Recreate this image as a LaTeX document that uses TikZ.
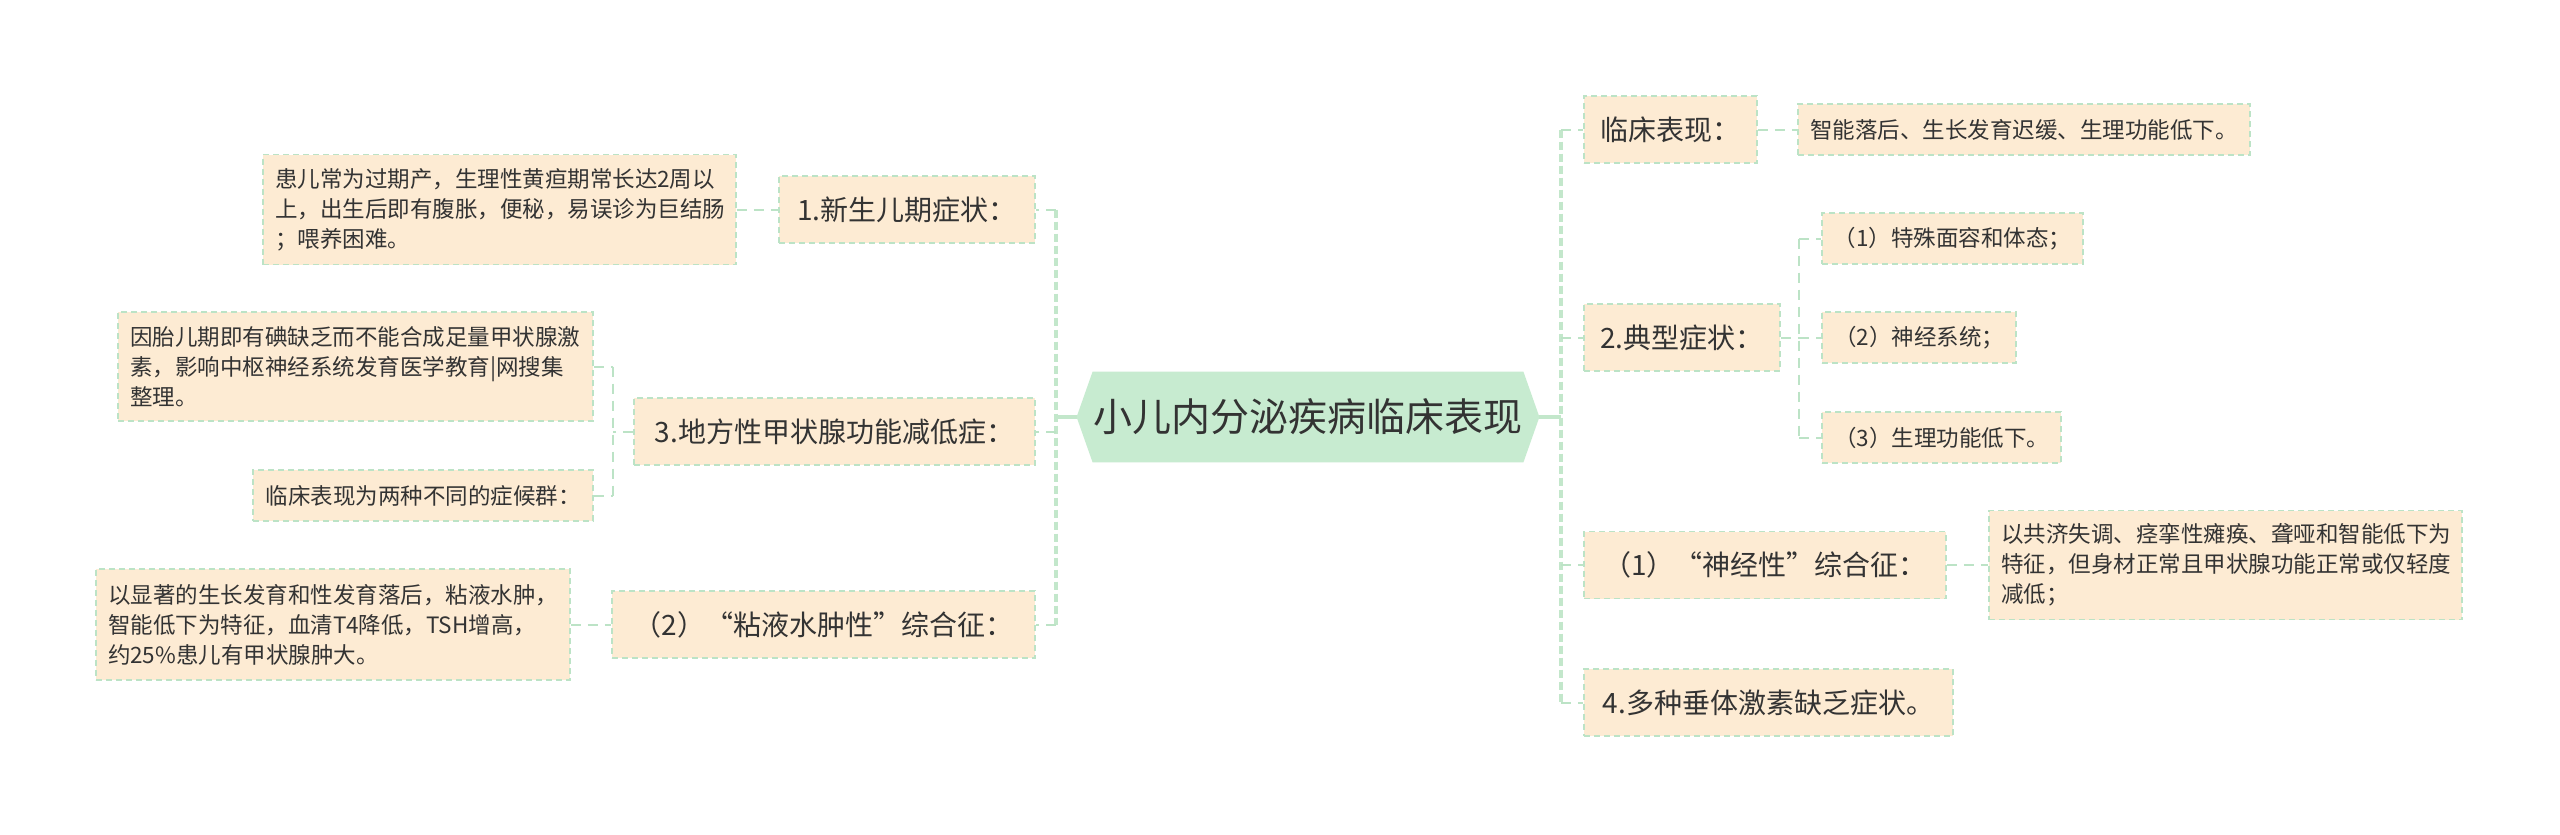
\documentclass[tikz,border=0pt]{standalone}
\usepackage{fontspec}
\setmainfont{Noto Sans CJK SC}
\usetikzlibrary{calc,backgrounds}
\definecolor{lg}{HTML}{BCE3C6}
\definecolor{tg}{HTML}{C3E7CB}
\definecolor{bf}{HTML}{FDEBD3}
\definecolor{hexf}{HTML}{C7EBD0}
\definecolor{tx}{HTML}{333333}
\begin{document}
\begin{tikzpicture}[x=0.5pt,y=-0.5pt,
  box/.style={draw=lg, line width=0.9pt, dash pattern=on 3pt off 2pt, fill=bf, text=tx, inner sep=0pt},
  big/.style={box, font=\fontsize{14pt}{17pt}\selectfont, minimum height=33.5pt},
  small/.style={box, font=\fontsize{11.25pt}{15pt}\selectfont, minimum height=25.5pt},
  multi/.style={box, font=\fontsize{11.25pt}{15pt}\selectfont, align=left, inner xsep=6pt},
  trunk/.style={draw=tg, line width=2pt, dash pattern=on 4pt off 2pt},
  rootline/.style={draw=tg, line width=2pt},
  stub/.style={draw=lg, line width=1pt, dash pattern=on 5pt off 3.5pt}]
\useasboundingbox (0,0) rectangle (2560,835);

% root
\node[minimum width=231pt, minimum height=45pt, inner sep=0pt, text=tx,
      font=\fontsize{19.5pt}{23pt}\selectfont] (root) at (1308,417) {小儿内分泌疾病临床表现};
\begin{scope}[on background layer]
\fill[white] (0,0) rectangle (2560,835);
\fill[hexf] (root.west) -- ([xshift=8pt]root.north west) -- ([xshift=-8pt]root.north east)
  -- (root.east) -- ([xshift=-8pt]root.south east) -- ([xshift=8pt]root.south west) -- cycle;
\end{scope}

% left level 1
\node[big, minimum width=128pt] (A1) at (907,209.5) {1.新生儿期症状：};
\node[big, minimum width=200.5pt] (A3) at (834.5,431.5) {3.地方性甲状腺功能减低症：};
\node[big, minimum width=211.5pt] (A2) at (823.5,624.5) {（2）“粘液水肿性”综合征：};

% left children
\node[multi, text width=224.5pt, minimum height=55pt] (A1c) at (499.5,209.5)
  {患儿常为过期产，生理性黄疸期常长达2周以\\上，出生后即有腹胀，便秘，易误诊为巨结肠\\；喂养困难。};
\node[multi, text width=225.5pt, minimum height=54.5pt] (A3c1) at (355.5,366.5)
  {因胎儿期即有碘缺乏而不能合成足量甲状腺激\\素，影响中枢神经系统发育医学教育|网搜集\\整理。};
\node[small, minimum width=170pt] (A3c2) at (423,495.5) {临床表现为两种不同的症候群：};
\node[multi, text width=225pt, minimum height=55.5pt] (A2c) at (333,624.5)
  {以显著的生长发育和性发育落后，粘液水肿，\\智能低下为特征，血清T4降低，TSH增高，\\约25\%患儿有甲状腺肿大。};

% right level 1
\node[big, minimum width=86.5pt] (B1) at (1670.5,129.5) {临床表现：};
\node[big, minimum width=98pt] (B2) at (1682,337.5) {2.典型症状：};
\node[big, minimum width=181pt] (B3) at (1765,565) {（1）“神经性”综合征：};
\node[big, minimum width=184.5pt] (B4) at (1768.5,702.5) {4.多种垂体激素缺乏症状。};

% right children
\node[small, minimum width=226pt] (B1c) at (2024,129.5) {智能落后、生长发育迟缓、生理功能低下。};
\node[small, minimum width=130.5pt] (B2c1) at (1952.5,238.5) {（1）特殊面容和体态；};
\node[small, minimum width=97pt] (B2c2) at (1919,337.5) {（2）神经系统；};
\node[small, minimum width=119.5pt] (B2c3) at (1941.5,437.5) {（3）生理功能低下。};
\node[multi, text width=224.5pt, minimum height=54.5pt] (B3c) at (2225.5,565)
  {以共济失调、痉挛性瘫痪、聋哑和智能低下为\\特征，但身材正常且甲状腺功能正常或仅轻度\\减低；};

% main connectors
\coordinate (lt) at (1056,417);
\coordinate (rt) at (1561,417);
\draw[rootline] (root.west) -- (lt);
\draw[rootline] (root.east) -- (rt);
\draw[trunk] (A1.east -| lt) -- (A2.east -| lt);
\draw[trunk] (B1.west -| rt) -- (B4.west -| rt);
\foreach \n in {A1,A3,A2} \draw[stub] (\n.east -| lt) -- (\n.east);
\foreach \n in {B1,B2,B3,B4} \draw[stub] (\n.west -| rt) -- (\n.west);

% child connectors
\draw[stub] (A1c.east) -- (A1.west);
\draw[stub] (A2c.east) -- (A2.west);
\draw[stub] (B1.east) -- (B1c.west);
\draw[stub] (B3.east) -- (B3c.west);

\coordinate (s3) at (613,0);
\draw[stub] (A3.west) -- (A3.west -| s3);
\draw[stub] (A3c1.east -| s3) -- (A3c2.east -| s3);
\draw[stub] (A3c1.east) -- (A3c1.east -| s3);
\draw[stub] (A3c2.east) -- (A3c2.east -| s3);

\coordinate (s2) at (1799,0);
\draw[stub] (B2.east) -- (B2.east -| s2);
\draw[stub] (B2c1.west -| s2) -- (B2c3.west -| s2);
\foreach \n in {B2c1,B2c2,B2c3} \draw[stub] (\n.west -| s2) -- (\n.west);
\end{tikzpicture}
\end{document}
